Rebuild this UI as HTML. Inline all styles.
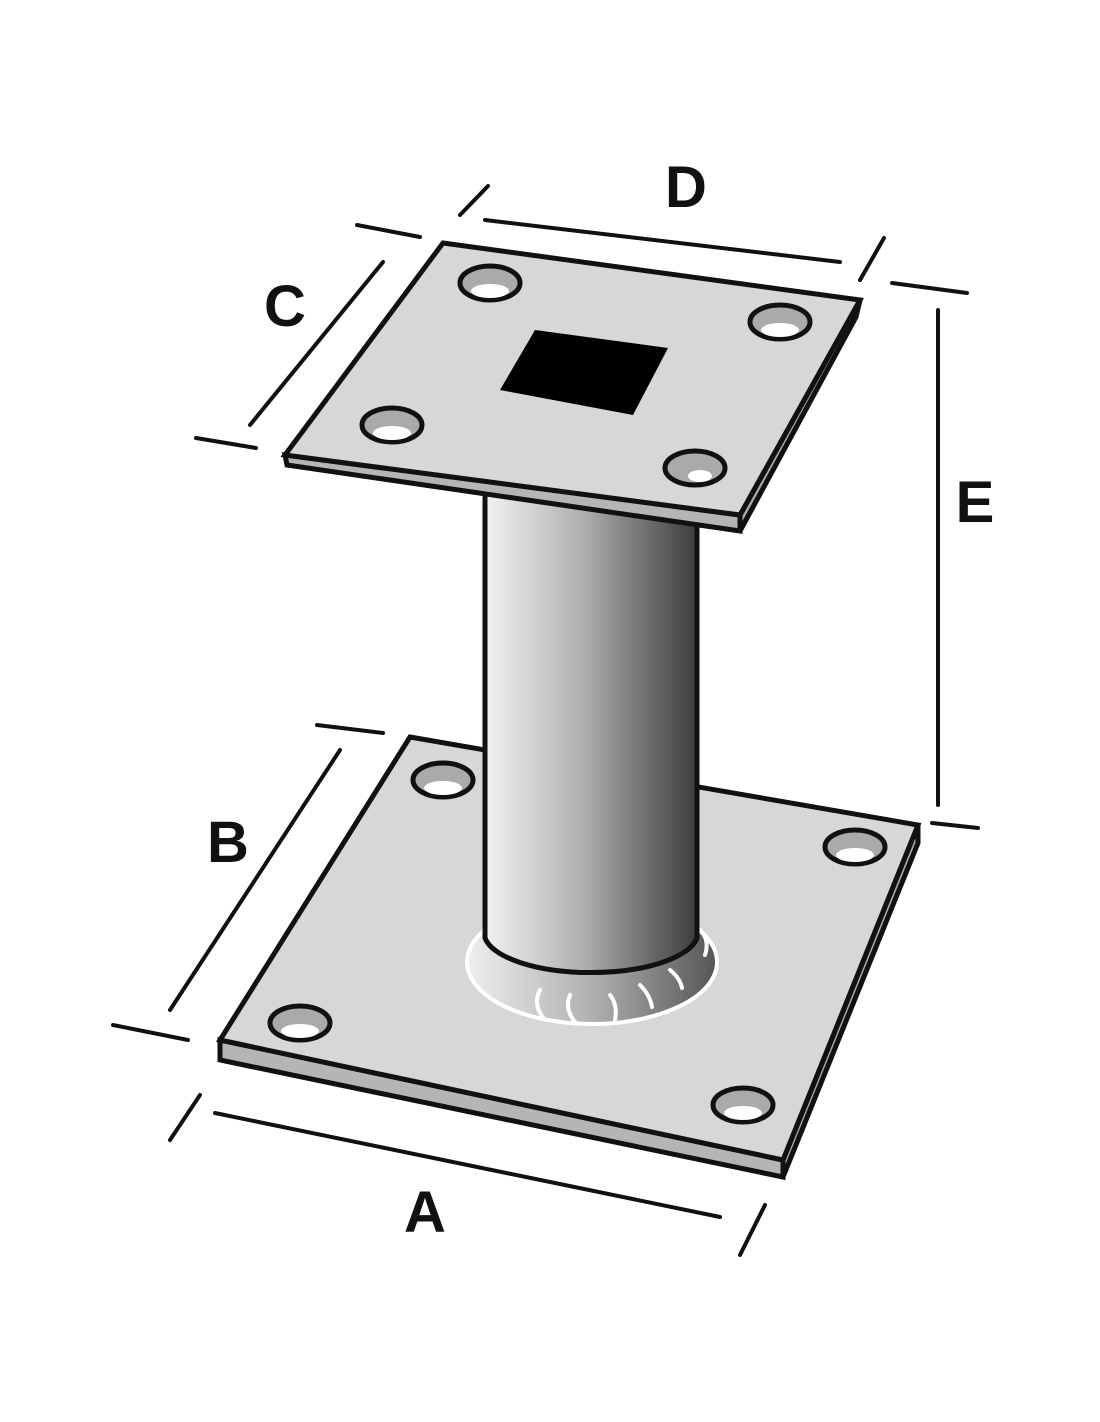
<!DOCTYPE html>
<html><head><meta charset="utf-8"><style>html,body{margin:0;padding:0;background:#fff}svg{display:block}</style></head><body>
<svg width="1100" height="1422" viewBox="0 0 1100 1422" xmlns="http://www.w3.org/2000/svg">
<defs>
<linearGradient id="col" x1="0" x2="1" y1="0" y2="0">
<stop offset="0" stop-color="#f2f2f2"/><stop offset="0.45" stop-color="#b0b1b3"/><stop offset="1" stop-color="#3c3c3e"/>
</linearGradient>
<linearGradient id="weld" x1="0" x2="1" y1="0" y2="0">
<stop offset="0" stop-color="#eeeeee"/><stop offset="0.5" stop-color="#b0b0b2"/><stop offset="1" stop-color="#555557"/>
</linearGradient>
</defs>
<g stroke="#111" stroke-width="5" fill="none" stroke-linecap="round">
<polygon points="220,1040 783,1160 783,1177 220,1060" fill="#b4b5b7"/>
<polygon points="783,1160 918,825 918,843 783,1177" fill="#a8a9ab"/>
<polygon points="410,737 918,825 783,1160 220,1040" fill="#d6d7d9"/>
<ellipse cx="592" cy="962" rx="125" ry="62" fill="url(#weld)" stroke="#fff" stroke-width="4"/>
<g stroke="#fff" stroke-width="4">
<path d="M540,990 q-8,15 5,30"/><path d="M570,995 q-6,15 6,28"/><path d="M610,995 q8,10 5,25"/><path d="M640,985 q10,10 12,22"/><path d="M670,970 q10,8 12,18"/><path d="M700,930 q10,10 5,25"/>
</g>
<path d="M485,497 L485,938 A107,40 0 0 0 697,938 L697,500" fill="url(#col)"/>
<g fill="#a9aaac">
<ellipse cx="443" cy="780" rx="30" ry="17"/><ellipse cx="855" cy="847" rx="30" ry="17"/><ellipse cx="300" cy="1023" rx="30" ry="17"/><ellipse cx="743" cy="1105" rx="30" ry="17"/>
</g>
<g fill="#fff" stroke="none">
<ellipse cx="443" cy="788" rx="19" ry="7"/><ellipse cx="855" cy="855" rx="19" ry="7"/><ellipse cx="300" cy="1031" rx="19" ry="7"/><ellipse cx="743" cy="1113" rx="19" ry="7"/>
</g>
<polygon points="285,455 740,515 740,531 287,465" fill="#b4b5b7"/>
<polygon points="740,515 860,300 856,317 740,531" fill="#a8a9ab"/>
<polygon points="443,243 860,300 740,515 285,455" fill="#d6d7d9"/>
<polygon points="535,330 668,348 633,415 500,390" fill="#000" stroke="none"/>
<g fill="#a9aaac">
<ellipse cx="490" cy="283" rx="30" ry="17"/><ellipse cx="780" cy="322" rx="30" ry="17"/><ellipse cx="392" cy="425" rx="30" ry="17"/><ellipse cx="695" cy="468" rx="30" ry="17"/>
</g>
<g fill="#fff" stroke="none">
<ellipse cx="490" cy="291" rx="19" ry="7"/><ellipse cx="780" cy="330" rx="19" ry="7"/><ellipse cx="392" cy="433" rx="19" ry="7"/><ellipse cx="700" cy="476" rx="12" ry="6"/>
</g>
<g stroke-width="4">
<line x1="485" y1="220" x2="840" y2="262"/><line x1="460" y1="215" x2="488" y2="186"/><line x1="860" y1="280" x2="884" y2="238"/>
<line x1="383" y1="262" x2="250" y2="425"/><line x1="357" y1="225" x2="420" y2="237"/><line x1="196" y1="438" x2="256" y2="448"/>
<line x1="938" y1="310" x2="938" y2="805"/><line x1="892" y1="283" x2="967" y2="293"/><line x1="932" y1="823" x2="978" y2="828"/>
<line x1="340" y1="750" x2="170" y2="1010"/><line x1="317" y1="725" x2="383" y2="733"/><line x1="113" y1="1025" x2="188" y2="1040"/>
<line x1="215" y1="1113" x2="720" y2="1217"/><line x1="170" y1="1140" x2="200" y2="1095"/><line x1="740" y1="1255" x2="765" y2="1205"/>
</g>
</g>
<g font-family="Liberation Sans, sans-serif" font-weight="bold" font-size="58" fill="#111" text-anchor="middle">
<text x="686" y="207">D</text>
<text x="285" y="326">C</text>
<text x="975" y="522">E</text>
<text x="228" y="862">B</text>
<text x="425" y="1232">A</text>
</g>
</svg>
</body></html>
